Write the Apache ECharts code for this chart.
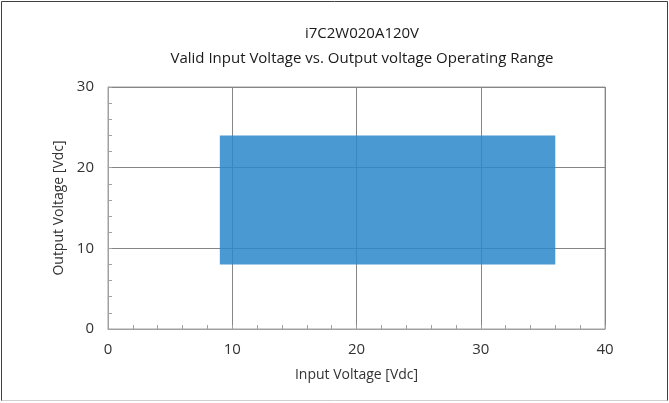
<!DOCTYPE html>
<html>
<head>
<meta charset="utf-8">
<script src="https://cdn.jsdelivr.net/npm/echarts@6/dist/echarts.min.js"></script>
<style>
  html, body { margin: 0; padding: 0; background: #fff; }
  #chart { width: 669px; height: 403px; }
</style>
</head>
<body>
<div id="chart"></div>
<script>
// operating window: input voltage range vs output voltage range
const inputRange = [9, 36]
const outputRange = [8, 24]
const xTicks = [0, 10, 20, 30, 40]
const yTicks = [0, 10, 20, 30]

const font = 'Open Sans'
const chart = echarts.init(document.getElementById('chart'))

chart.setOption({
  animation: false,
  title: [
    {
      text: 'i7C2W020A120V',
      left: 357,
      top: 21,
      textAlign: 'center',
      textStyle: { fontFamily: font, fontSize: 15, fontWeight: 'normal', color: '#1a1a1a' }
    },
    {
      text: 'Valid Input Voltage vs. Output voltage Operating Range',
      left: 357,
      top: 46,
      textAlign: 'center',
      textStyle: { fontFamily: font, fontSize: 15, fontWeight: 'normal', color: '#1a1a1a' }
    }
  ],
  grid: {
    left: 108,
    right: 64,
    top: 87,
    bottom: 74,
    show: true,
    borderColor: '#a0a0a0',
    borderWidth: 1
  },
  xAxis: {
    type: 'value',
    min: xTicks[0],
    max: xTicks[xTicks.length - 1],
    interval: 10,
    name: 'Input Voltage [Vdc]',
    nameLocation: 'middle',
    nameGap: 39,
    nameTextStyle: { fontFamily: font, fontSize: 14, color: '#333' },
    axisLine: { lineStyle: { color: '#a0a0a0' } },
    axisTick: { show: true, inside: true, length: 4, lineStyle: { color: '#a0a0a0' } },
    minorTick: { show: true, splitNumber: 5, length: 4, lineStyle: { color: '#a0a0a0' } },
    axisLabel: { fontFamily: font, fontSize: 15, color: '#333', margin: 13 },
    splitLine: { lineStyle: { color: '#868686' } }
  },
  yAxis: {
    type: 'value',
    min: yTicks[0],
    max: yTicks[yTicks.length - 1],
    interval: 10,
    name: 'Output Voltage [Vdc]',
    nameLocation: 'middle',
    nameGap: 38,
    nameTextStyle: { fontFamily: font, fontSize: 14, color: '#333' },
    axisLine: { show: true, lineStyle: { color: '#a0a0a0' } },
    axisTick: { show: true, inside: true, length: 4, lineStyle: { color: '#a0a0a0' } },
    minorTick: { show: true, splitNumber: 5, length: 4, lineStyle: { color: '#a0a0a0' } },
    axisLabel: { fontFamily: font, fontSize: 15, color: '#333', margin: 14 },
    splitLine: { lineStyle: { color: '#868686' } }
  },
  series: [
    {
      type: 'custom',
      data: [[inputRange[0], outputRange[0], inputRange[1], outputRange[1]]],
      renderItem: (params, api) => {
        const p0 = api.coord([api.value(0), api.value(3)])
        const p1 = api.coord([api.value(2), api.value(1)])
        return {
          type: 'rect',
          shape: { x: p0[0], y: p0[1], width: p1[0] - p0[0], height: p1[1] - p0[1] },
          style: { fill: 'rgba(45, 136, 204, 0.86)' },
          z2: 10
        }
      }
    }
  ],
  graphic: [
    { type: 'line', shape: { x1: 1.5, y1: 1.5, x2: 667.5, y2: 1.5 }, style: { stroke: '#404040', lineWidth: 1 } },
    { type: 'line', shape: { x1: 1.5, y1: 1.5, x2: 1.5, y2: 401 }, style: { stroke: '#404040', lineWidth: 1 } },
    { type: 'line', shape: { x1: 667.5, y1: 1.5, x2: 667.5, y2: 401 }, style: { stroke: '#404040', lineWidth: 1 } },
    { type: 'line', shape: { x1: 1.5, y1: 400.5, x2: 667.5, y2: 400.5 }, style: { stroke: '#d0d0d0', lineWidth: 1 } }
  ]
})
</script>
</body>
</html>
